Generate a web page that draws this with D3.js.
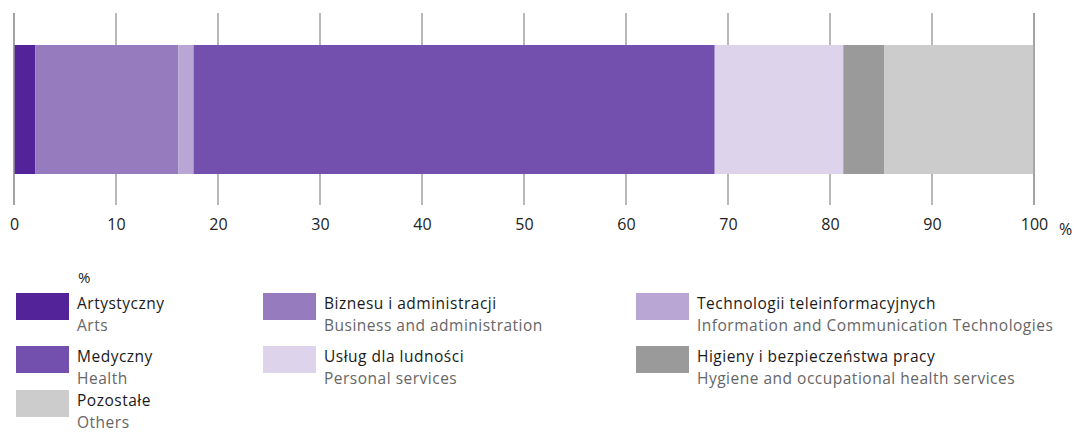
<!DOCTYPE html>
<html>
<head>
<meta charset="utf-8">
<script src="https://cdn.jsdelivr.net/npm/d3@7"></script>
<style>
  html, body { margin: 0; padding: 0; background: #fff; }
  svg { display: block; font-family: "Open Sans", "Noto Sans", sans-serif; }
</style>
</head>
<body>
<svg id="chart" width="1076" height="432"></svg>
<script>
// Share of students by field group (%), in stacking order along the bar
const categoriesPl = ["Artystyczny", "Biznesu i administracji", "Technologii teleinformacyjnych",
  "Medyczny", "Usług dla ludności", "Higieny i bezpieczeństwa pracy", "Pozostałe"];
const categoriesEn = ["Arts", "Business and administration", "Information and Communication Technologies",
  "Health", "Personal services", "Hygiene and occupational health services", "Others"];
const shares = [2.1, 14.0, 1.5, 51.1, 12.6, 4.0, 14.7];
const colors = ["#53239a", "#967bbe", "#b9a6d5", "#7450ae", "#ddd4eb", "#9a9a9a", "#cccccc"];
const tickValues = [0, 10, 20, 30, 40, 50, 60, 70, 80, 90, 100];

// Legend grid: three columns, filled row by row
const legendCells = [
  { i: 0, col: 0, row: 0 }, { i: 1, col: 1, row: 0 }, { i: 2, col: 2, row: 0 },
  { i: 3, col: 0, row: 1 }, { i: 4, col: 1, row: 1 }, { i: 5, col: 2, row: 1 },
  { i: 6, col: 0, row: 2 }
];

const svg = d3.select("#chart");

const x = d3.scaleLinear().domain([0, 100]).range([14, 1034]);
const barTop = 45, barBottom = 174;
const gridTop = 13, gridBottom = 205;

// Cumulative stacking
let acc = 0;
const segs = shares.map((v, i) => { const s = { i, x0: acc, x1: acc + v }; acc += v; return s; });

// Vertical grid lines
svg.append("g").selectAll("line").data(tickValues).join("line")
  .attr("x1", d => x(d)).attr("x2", d => x(d))
  .attr("y1", gridTop).attr("y2", gridBottom)
  .attr("stroke", "#9a9a9a").attr("stroke-width", 1.4);

// Stacked bar
svg.append("g").selectAll("rect").data(segs).join("rect")
  .attr("x", d => x(d.x0))
  .attr("y", barTop)
  .attr("width", d => x(d.x1) - x(d.x0))
  .attr("height", barBottom - barTop)
  .attr("fill", d => colors[d.i]);

// Edge lines drawn on top of the bar
svg.append("g").selectAll("line").data([0, 100]).join("line")
  .attr("x1", d => x(d)).attr("x2", d => x(d))
  .attr("y1", gridTop).attr("y2", gridBottom)
  .attr("stroke", "#9a9a9a").attr("stroke-width", 1.4);

// Axis labels
const axis = d3.axisBottom(x).tickValues(tickValues).tickSize(0).tickPadding(0).tickFormat(d3.format("d"));
const ax = svg.append("g").attr("transform", `translate(0, 219)`).call(axis);
ax.select(".domain").remove();
ax.selectAll("text")
  .attr("fill", "#222")
  .style("font-size", "16px")
  .style("font-family", "'Open Sans', 'Noto Sans', sans-serif");
svg.append("text").attr("x", 1059).attr("y", 235).attr("fill", "#222")
  .style("font-size", "16px").text("%");

// Legend
svg.append("text").attr("x", 78).attr("y", 283).attr("fill", "#222")
  .style("font-size", "15px").text("%");

const colX = [16, 263, 636];
const rowY = [293, 346, 390];
const lg = svg.append("g").selectAll("g").data(legendCells).join("g")
  .attr("transform", d => `translate(${colX[d.col]}, ${rowY[d.row]})`);
lg.append("rect").attr("width", 53).attr("height", 27).attr("fill", d => colors[d.i]);
lg.append("text").attr("x", 61).attr("y", 16).attr("fill", "#1a1a1a")
  .style("font-size", "15.5px").style("letter-spacing", "0.5px").text(d => categoriesPl[d.i]);
lg.append("text").attr("x", 61).attr("y", 37.5).attr("fill", "#666")
  .style("font-size", "15.5px").style("letter-spacing", "0.5px").text(d => categoriesEn[d.i]);
</script>
</body>
</html>
